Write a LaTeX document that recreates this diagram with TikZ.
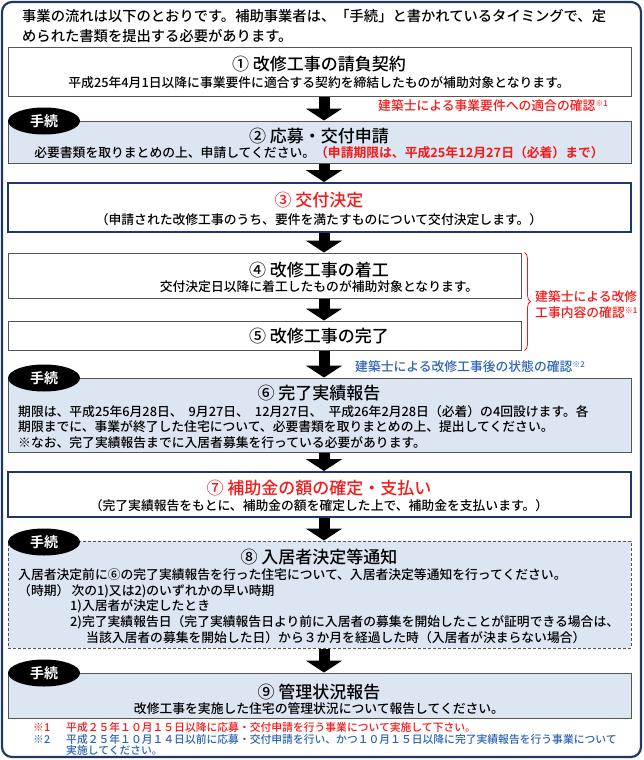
\documentclass[tikz,border=0pt]{standalone}
\usepackage{fontspec}
\setmainfont{Noto Sans CJK JP}[UprightFont={* Medium},BoldFont={* Bold}]
\usetikzlibrary{arrows.meta,shapes.geometric,decorations.pathreplacing}
\definecolor{navy}{RGB}{31,56,100}
\definecolor{paleblue}{RGB}{220,230,242}
\definecolor{notered}{RGB}{245,25,25}
\definecolor{noteblue}{RGB}{45,100,180}
\definecolor{edgegray}{RGB}{85,85,85}
\newcommand\kome[1]{\raisebox{0.6ex}{\fontsize{8}{8}\selectfont ※#1}}

\begin{document}
\begin{tikzpicture}[x=1pt,y=-1pt,
	plainbox/.style={draw=edgegray,line width=1pt,inner sep=0pt,minimum width=623pt},
	formbox/.style={plainbox,fill=paleblue},
	keybox/.style={plainbox,draw=navy,line width=2pt},
	dashbox/.style={formbox,dash pattern=on 3pt off 2pt},
	tag/.style={ellipse,fill=black,text=white,font=\fontsize{14}{14}\selectfont\bfseries,minimum width=72pt,minimum height=27pt,inner sep=0pt},
	headtxt/.style={inner sep=0pt,font=\fontsize{17}{17}\selectfont},
	subtxt/.style={inner sep=0pt,font=\fontsize{12.8}{12.8}\selectfont},
	bodytxt/.style={inner sep=0pt,align=left,anchor=west,font=\fontsize{12.8}{15.8}\selectfont},
	foot/.style={inner sep=0pt,align=left,anchor=west,font=\fontsize{10.8}{11}\selectfont},
	flow/.style={line width=11pt,-{Triangle[width=36pt,length=12pt]}}]
	\useasboundingbox (0,0) rectangle (644,760);
	\draw[navy,line width=2.2pt,rounded corners=10pt] (2,2) rectangle (641,757);
	\coordinate (ax) at (324,0);
	\node[bodytxt,font=\fontsize{14.3}{20}\selectfont] (intro) at (22,26) {事業の流れは以下のとおりです。補助事業者は、「手続」と書かれているタイミングで、定\\められた書類を提出する必要があります。};

	\node[plainbox,minimum height=48pt] (b1) at (319.5,72) {};
	\node[headtxt] (h1) at (319,64) {① 改修工事の請負契約};
	\node[subtxt] (s1) at (319,83) {平成25年4月1日以降に事業要件に適合する契約を締結したものが補助対象となります。};
	\node[subtxt,text=notered,anchor=west] (n1) at (378,106) {建築士による事業要件への適合の確認\kome{1}};

	\node[formbox,minimum height=42pt] (b2) at (319.5,142) {};
	\node[tag] (k2) at (44,121) {手続};
	\node[headtxt] (h2) at (319,136) {② 応募・交付申請};
	\node[subtxt] (s2) at (319,153) {必要書類を取りまとめの上、申請してください。{\color{notered}\bfseries （申請期限は、平成25年12月27日（必着）まで）}};

	\node[keybox,minimum height=49pt] (b3) at (319.5,207.5) {};
	\node[headtxt,text=notered] (h3) at (319,200) {③ 交付決定};
	\node[subtxt] (s3) at (319,220) {（申請された改修工事のうち、要件を満たすものについて交付決定します。）};

	\node[plainbox,minimum width=513pt,minimum height=45pt] (b4) at (264.5,275.5) {};
	\node[headtxt] (h4) at (319,270) {④ 改修工事の着工};
	\node[subtxt] (s4) at (319,287) {交付決定日以降に着工したものが補助対象となります。};

	\node[plainbox,minimum width=513pt,minimum height=29pt] (b5) at (264.5,335.5) {};
	\node[headtxt] (h5) at (319,336) {⑤ 改修工事の完了};
	\coordinate (bt) at ([xshift=3pt]b4.north east);
	\coordinate (bb) at ([xshift=3pt]b5.south east);
	\draw[notered,line width=0.8pt,decorate,decoration={brace,amplitude=6pt}] (bt) -- (bb);
	\node[bodytxt,text=notered] (n2) at (535,305) {建築士による改修\\工事内容の確認\kome{1}};
	\node[subtxt,text=noteblue,anchor=west] (n3) at (355,367) {建築士による改修工事後の状態の確認\kome{2}};

	\node[formbox,minimum height=74pt] (b6) at (319.5,415) {};
	\node[tag] (k6) at (44,378) {手続};
	\node[headtxt] (h6) at (319,393) {⑥ 完了実績報告};
	\node[bodytxt] (s6) at (18,427) {期限は、平成25年6月28日、\hspace{6pt}9月27日、\hspace{6pt}12月27日、\hspace{6pt}平成26年2月28日（必着）の4回設けます。各\\期限までに、事業が終了した住宅について、必要書類を取りまとめの上、提出してください。\\※なお、完了実績報告までに入居者募集を行っている必要があります。};

	\node[keybox,minimum height=45pt] (b7) at (319.5,494.5) {};
	\node[headtxt,text=notered] (h7) at (319,488) {⑦ 補助金の額の確定・支払い};
	\node[subtxt] (s7) at (319,506) {（完了実績報告をもとに、補助金の額を確定した上で、補助金を支払います。）};

	\node[dashbox,minimum height=107pt] (b8) at (319.5,594.5) {};
	\node[tag] (k8) at (44,542) {手続};
	\node[headtxt] (h8) at (319,557) {⑧ 入居者決定等通知};
	\node[bodytxt] (s8) at (18,606) {入居者決定前に⑥の完了実績報告を行った住宅について、入居者決定等通知を行ってください。\\（時期）\,次の1)又は2)のいずれかの早い時期\\\hspace*{52pt}1)入居者が決定したとき\\\hspace*{52pt}2)完了実績報告日（完了実績報告日より前に入居者の募集を開始したことが証明できる場合は、\\\hspace*{68pt}当該入居者の募集を開始した日）から３か月を経過した時（入居者が決まらない場合）};

	\node[formbox,minimum height=45pt] (b9) at (319.5,695.5) {};
	\node[tag] (k9) at (44,673) {手続};
	\node[headtxt] (h9) at (319,692) {⑨ 管理状況報告};
	\node[subtxt] (s9) at (319,709) {改修工事を実施した住宅の管理状況について報告してください。};

	\node[foot,text=notered] (f1m) at (33,727) {※1};
	\node[foot,text=notered] (f1) at (66,727) {平成２５年１０月１５日以降に応募・交付申請を行う事業について実施して下さい。};
	\node[foot,text=noteblue] (f2m) at (33,739) {※2};
	\node[foot,text=noteblue] (f2) at (66,744.5) {平成２５年１０月１４日以前に応募・交付申請を行い、かつ１０月１５日以降に完了実績報告を行う事業について\\実施してください。};

	\draw[flow] (b1.south -| ax) -- (b2.north -| ax);
	\draw[flow] (b2.south -| ax) -- (b3.north -| ax);
	\draw[flow] (b3.south -| ax) -- (b4.north -| ax);
	\draw[flow] (b4.south -| ax) -- (b5.north -| ax);
	\draw[flow] (b5.south -| ax) -- (b6.north -| ax);
	\draw[flow] (b6.south -| ax) -- (b7.north -| ax);
	\draw[flow] (b7.south -| ax) -- (b8.north -| ax);
	\draw[flow] (b8.south -| ax) -- (b9.north -| ax);
\end{tikzpicture}
\end{document}
